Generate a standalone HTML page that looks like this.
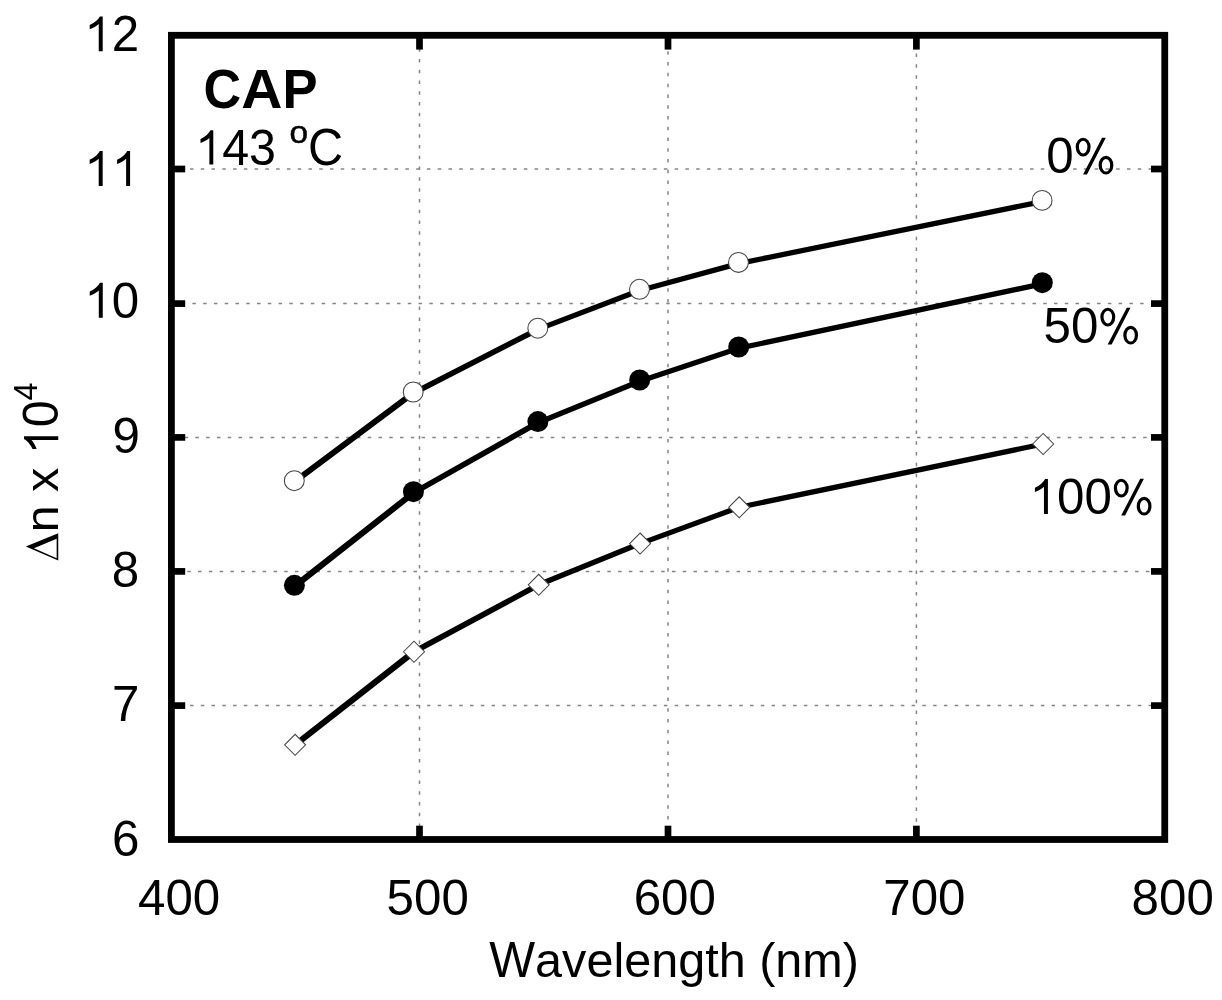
<!DOCTYPE html>
<html><head><meta charset="utf-8"><title>CAP birefringence vs wavelength</title>
<style>html,body{margin:0;padding:0;background:#fff;}svg{display:block;filter:grayscale(1);}
text{font-family:"Liberation Sans",sans-serif;font-kerning:none;}</style></head>
<body>
<svg width="1222" height="1000" viewBox="0 0 1222 1000">
<rect width="1222" height="1000" fill="#fff"/>
<g stroke="#858585" stroke-width="1.5" stroke-dasharray="3.5 7.27">
<line x1="171.4" y1="169.0" x2="1164.75" y2="169.0" stroke-dashoffset="2.94"/>
<line x1="171.4" y1="303.6" x2="1164.75" y2="303.6" stroke-dashoffset="0.54"/>
<line x1="171.4" y1="437.4" x2="1164.75" y2="437.4" stroke-dashoffset="8.31"/>
<line x1="171.4" y1="571.4" x2="1164.75" y2="571.4" stroke-dashoffset="5.64"/>
<line x1="171.4" y1="705.6" x2="1164.75" y2="705.6" stroke-dashoffset="2.94"/>
<line x1="419.5" y1="35.3" x2="419.5" y2="839.5" stroke-dashoffset="8.71"/>
<line x1="668.0" y1="35.3" x2="668.0" y2="839.5" stroke-dashoffset="5.51"/>
<line x1="916.4" y1="35.3" x2="916.4" y2="839.5" stroke-dashoffset="3.24"/>
</g>
<g stroke="#000" stroke-linecap="round">
<line x1="294.3" y1="481.90" x2="413.2" y2="393.20" stroke-width="6.00"/>
<line x1="413.2" y1="393.20" x2="537.8" y2="329.40" stroke-width="5.57"/>
<line x1="537.8" y1="329.40" x2="639.5" y2="290.50" stroke-width="5.29"/>
<line x1="639.5" y1="290.50" x2="738.45" y2="263.60" stroke-width="5.25"/>
<line x1="738.45" y1="263.60" x2="1042.1" y2="201.60" stroke-width="5.25"/>
<line x1="294.4" y1="586.50" x2="413.45" y2="492.90" stroke-width="6.07"/>
<line x1="413.45" y1="492.90" x2="537.9" y2="422.75" stroke-width="5.67"/>
<line x1="537.9" y1="422.75" x2="639.7" y2="381.20" stroke-width="5.35"/>
<line x1="639.7" y1="381.20" x2="738.7" y2="348.20" stroke-width="5.25"/>
<line x1="738.7" y1="348.20" x2="1042.3" y2="283.90" stroke-width="5.25"/>
<line x1="295.1" y1="744.85" x2="414.0" y2="651.75" stroke-width="6.06"/>
<line x1="414.0" y1="651.75" x2="538.7" y2="584.85" stroke-width="5.62"/>
<line x1="538.7" y1="584.85" x2="640.1" y2="543.60" stroke-width="5.35"/>
<line x1="640.1" y1="543.60" x2="739.2" y2="507.30" stroke-width="5.26"/>
<line x1="739.2" y1="507.30" x2="1043.15" y2="444.00" stroke-width="5.25"/>
</g>
<circle cx="294.3" cy="480.7" r="9.95" fill="#fff" stroke="#444" stroke-width="1.05"/>
<circle cx="413.2" cy="392.0" r="9.95" fill="#fff" stroke="#444" stroke-width="1.05"/>
<circle cx="537.8" cy="328.2" r="9.95" fill="#fff" stroke="#444" stroke-width="1.05"/>
<circle cx="639.5" cy="289.3" r="9.95" fill="#fff" stroke="#444" stroke-width="1.05"/>
<circle cx="738.45" cy="262.4" r="9.95" fill="#fff" stroke="#444" stroke-width="1.05"/>
<circle cx="1042.1" cy="200.4" r="9.95" fill="#fff" stroke="#444" stroke-width="1.05"/>
<circle cx="294.4" cy="585.3" r="10.5" fill="#000"/>
<circle cx="413.45" cy="491.7" r="10.5" fill="#000"/>
<circle cx="537.9" cy="421.55" r="10.5" fill="#000"/>
<circle cx="639.7" cy="380.0" r="10.5" fill="#000"/>
<circle cx="738.7" cy="347.0" r="10.5" fill="#000"/>
<circle cx="1042.3" cy="282.7" r="10.5" fill="#000"/>
<path d="M284.60 744.85L295.1 734.35L305.60 744.85L295.1 755.35Z" fill="#fff" stroke="#444" stroke-width="1.05"/>
<path d="M403.50 651.75L414.0 641.25L424.50 651.75L414.0 662.25Z" fill="#fff" stroke="#444" stroke-width="1.05"/>
<path d="M528.20 584.85L538.7 574.35L549.20 584.85L538.7 595.35Z" fill="#fff" stroke="#444" stroke-width="1.05"/>
<path d="M629.60 543.6L640.1 533.10L650.60 543.6L640.1 554.10Z" fill="#fff" stroke="#444" stroke-width="1.05"/>
<path d="M728.70 507.3L739.2 496.80L749.70 507.3L739.2 517.80Z" fill="#fff" stroke="#444" stroke-width="1.05"/>
<path d="M1032.65 444.0L1043.15 433.50L1053.65 444.0L1043.15 454.50Z" fill="#fff" stroke="#444" stroke-width="1.05"/>
<rect x="171.4" y="35.3" width="993.35" height="804.20" fill="none" stroke="#000" stroke-width="6.8"/>
<g stroke="#000" stroke-width="6.7">
<line x1="171.4" y1="169.0" x2="185.2" y2="169.0"/>
<line x1="1164.75" y1="169.0" x2="1151.0" y2="169.0"/>
<line x1="171.4" y1="303.6" x2="185.2" y2="303.6"/>
<line x1="1164.75" y1="303.6" x2="1151.0" y2="303.6"/>
<line x1="171.4" y1="437.4" x2="185.2" y2="437.4"/>
<line x1="1164.75" y1="437.4" x2="1151.0" y2="437.4"/>
<line x1="171.4" y1="571.4" x2="185.2" y2="571.4"/>
<line x1="1164.75" y1="571.4" x2="1151.0" y2="571.4"/>
<line x1="171.4" y1="705.6" x2="185.2" y2="705.6"/>
<line x1="1164.75" y1="705.6" x2="1151.0" y2="705.6"/>
<line x1="419.5" y1="35.3" x2="419.5" y2="49.6"/>
<line x1="419.5" y1="839.5" x2="419.5" y2="825.7"/>
<line x1="668.0" y1="35.3" x2="668.0" y2="49.6"/>
<line x1="668.0" y1="839.5" x2="668.0" y2="825.7"/>
<line x1="916.4" y1="35.3" x2="916.4" y2="49.6"/>
<line x1="916.4" y1="839.5" x2="916.4" y2="825.7"/>
</g>
<g font-family="Liberation Sans, sans-serif" fill="#000">
<path d="M763 0L598 0L598 -1130Q533 -1068 427 -1008Q321 -947 222 -916L222 -1088Q373 -1158 486 -1257Q599 -1356 646 -1450L763 -1450Z" fill-rule="evenodd" transform="translate(84.34,51.30) scale(0.02407)"/>
<text transform="translate(0,51.30) scale(1,1.015)" x="111.76" y="0" font-size="49.3">2</text>
<path d="M763 0L598 0L598 -1130Q533 -1068 427 -1008Q321 -947 222 -916L222 -1088Q373 -1158 486 -1257Q599 -1356 646 -1450L763 -1450Z" fill-rule="evenodd" transform="translate(84.31,186.00) scale(0.02407)"/>
<path d="M763 0L598 0L598 -1130Q533 -1068 427 -1008Q321 -947 222 -916L222 -1088Q373 -1158 486 -1257Q599 -1356 646 -1450L763 -1450Z" fill-rule="evenodd" transform="translate(111.73,186.00) scale(0.02407)"/>
<path d="M763 0L598 0L598 -1130Q533 -1068 427 -1008Q321 -947 222 -916L222 -1088Q373 -1158 486 -1257Q599 -1356 646 -1450L763 -1450Z" fill-rule="evenodd" transform="translate(84.39,317.70) scale(0.02407)"/>
<text transform="translate(0,317.70) scale(1,1.015)" x="111.81" y="0" font-size="49.3">0</text>
<text transform="translate(0,453.00) scale(1,1.015)" x="112.42" y="0" font-size="49.3">9</text>
<text transform="translate(0,587.05) scale(1,1.015)" x="111.82" y="0" font-size="49.3">8</text>
<text transform="translate(0,720.95) scale(1,1.015)" x="112.06" y="0" font-size="49.3">7</text>
<text transform="translate(0,855.50) scale(1,1.015)" x="112.05" y="0" font-size="49.3">6</text>
<text transform="translate(0,914.80) scale(1,1.015)" x="138.02 165.44 192.86" y="0" font-size="49.3">400</text>
<text transform="translate(0,914.80) scale(1,1.015)" x="386.57 413.99 441.41" y="0" font-size="49.3">500</text>
<text transform="translate(0,914.80) scale(1,1.015)" x="633.68 661.10 688.52" y="0" font-size="49.3">600</text>
<text transform="translate(0,914.80) scale(1,1.015)" x="883.27 910.69 938.11" y="0" font-size="49.3">700</text>
<text transform="translate(0,914.80) scale(1,1.015)" x="1131.61 1159.03 1186.45" y="0" font-size="49.3">800</text>
<text transform="translate(0,976.60) scale(1,1.04)" x="489.29" y="0" font-size="48.55">W</text>
<text transform="translate(0,976.60) scale(1,0.985)" x="535.11 562.11 586.39 613.39 624.17 651.18 678.18 705.18 718.67 745.67" y="0" font-size="48.55">avelength </text>
<text transform="translate(0,976.60) scale(1,1.0)" x="759.16" y="0" font-size="48.55">(</text>
<text transform="translate(0,976.60) scale(1,0.985)" x="775.32 802.33" y="0" font-size="48.55">nm</text>
<text transform="translate(0,976.60) scale(1,1.0)" x="842.77" y="0" font-size="48.55">)</text>
<text transform="translate(0,173.00) scale(1,1.015)" x="1046.27" y="0" font-size="49.3">0</text>
<path d="M83 -1079A310 389 0 1 0 703 -1079A310 389 0 1 0 83 -1079ZM216 -1076A177 263 0 1 0 570 -1076A177 263 0 1 0 216 -1076ZM1035 -327A307 392 0 1 0 1649 -327A307 392 0 1 0 1035 -327ZM1170 -322A172 263 0 1 0 1514 -322A172 263 0 1 0 1170 -322ZM1180 -1468L1334 -1468L551 65L388 65Z" fill-rule="evenodd" transform="translate(1073.69,173.00) scale(0.02407)"/>
<text transform="translate(0,343.00) scale(1,1.015)" x="1043.53 1070.94" y="0" font-size="49.3">50</text>
<path d="M83 -1079A310 389 0 1 0 703 -1079A310 389 0 1 0 83 -1079ZM216 -1076A177 263 0 1 0 570 -1076A177 263 0 1 0 216 -1076ZM1035 -327A307 392 0 1 0 1649 -327A307 392 0 1 0 1035 -327ZM1170 -322A172 263 0 1 0 1514 -322A172 263 0 1 0 1170 -322ZM1180 -1468L1334 -1468L551 65L388 65Z" fill-rule="evenodd" transform="translate(1098.36,343.00) scale(0.02407)"/>
<path d="M763 0L598 0L598 -1130Q533 -1068 427 -1008Q321 -947 222 -916L222 -1088Q373 -1158 486 -1257Q599 -1356 646 -1450L763 -1450Z" fill-rule="evenodd" transform="translate(1029.56,514.00) scale(0.02407)"/>
<text transform="translate(0,514.00) scale(1,1.015)" x="1056.97 1084.39" y="0" font-size="49.3">00</text>
<path d="M83 -1079A310 389 0 1 0 703 -1079A310 389 0 1 0 83 -1079ZM216 -1076A177 263 0 1 0 570 -1076A177 263 0 1 0 216 -1076ZM1035 -327A307 392 0 1 0 1649 -327A307 392 0 1 0 1035 -327ZM1170 -322A172 263 0 1 0 1514 -322A172 263 0 1 0 1170 -322ZM1180 -1468L1334 -1468L551 65L388 65Z" fill-rule="evenodd" transform="translate(1111.81,514.00) scale(0.02407)"/>
<path d="M763 0L598 0L598 -1130Q533 -1068 427 -1008Q321 -947 222 -916L222 -1088Q373 -1158 486 -1257Q599 -1356 646 -1450L763 -1450Z" fill-rule="evenodd" transform="translate(195.25,164.60) scale(0.02363)"/>
<text transform="translate(0,164.60) scale(1,1.015)" x="222.17 249.09" y="0" font-size="48.4">43</text>
<text transform="translate(203.56,108.00) scale(0.9609,1.04)" font-size="54.2" font-weight="bold">C</text>
<text transform="translate(241.33,108.00) scale(1.0519,1.04)" font-size="54.2" font-weight="bold">A</text>
<text transform="translate(282.38,108.00) scale(0.9715,1.04)" font-size="54.2" font-weight="bold">P</text>
<text transform="translate(289.49,143.00) scale(1.0171,0.93)" font-size="32.9" stroke="#000" stroke-width="0.55">o</text>
<text transform="translate(307.93,165.00) scale(1.0048,1.056)" font-size="48.4">C</text>
<g transform="translate(58.25,560.6) rotate(-90)">
<path fill-rule="evenodd" d="M0 0L27.4 0L14.2 -32.45ZM2.3 -1.6L21.9 -1.6L12.45 -24.3Z"/>
<text transform="translate(0,0.00) scale(1,0.97)" x="28.34 55.25 68.70 92.90" y="0" font-size="48.4">n x </text>
<path d="M763 0L598 0L598 -1130Q533 -1068 427 -1008Q321 -947 222 -916L222 -1088Q373 -1158 486 -1257Q599 -1356 646 -1450L763 -1450Z" fill-rule="evenodd" transform="translate(106.35,0.00) scale(0.02363)"/>
<text transform="translate(0,0.00) scale(1,1.015)" x="133.27" y="0" font-size="48.4">0</text>
<text transform="translate(0,-21.55) scale(1,1.015)" x="160.18" y="0" font-size="32.5">4</text>
</g>
</g></svg>
</body></html>
